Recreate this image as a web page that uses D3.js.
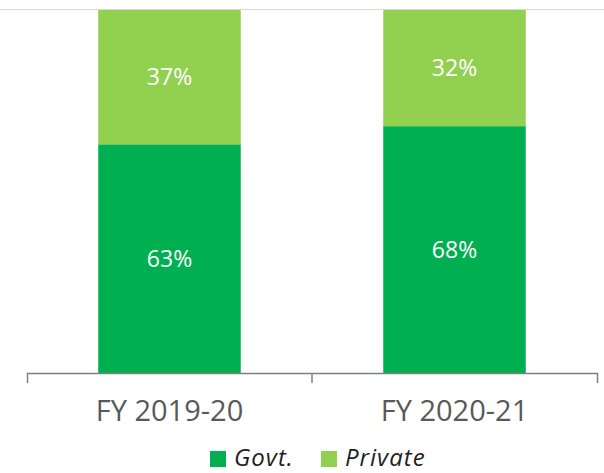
<!DOCTYPE html>
<html>
<head>
<meta charset="utf-8">
<script src="https://cdn.jsdelivr.net/npm/d3@7"></script>
<style>
  body { margin: 0; background: #fff; }
  svg { display: block; font-family: "Open Sans", sans-serif; }
</style>
</head>
<body>
<div id="chart"></div>
<script>
// Data (100% stacked)
const categories = ['FY 2019-20', 'FY 2020-21'];
const seriesNames = ['Govt.', 'Private'];
const govt = [63, 68];
const privateShare = [37, 32];
const colors = ['#00b050', '#92d050'];

const width = 604;
const height = 473;
const margin = { top: 10, right: 7, bottom: 100, left: 27 };

const rows = categories.map((c, i) => ({ cat: c, 'Govt.': govt[i], Private: privateShare[i] }));
const stacked = d3.stack().keys(seriesNames)(rows);

const svg = d3.select('#chart')
  .append('svg')
  .attr('width', width)
  .attr('height', height);

const x = d3.scaleBand()
  .domain(categories)
  .range([margin.left, width - margin.right])
  .paddingInner(0.5)
  .paddingOuter(0.25);

const y = d3.scaleLinear()
  .domain([0, 100])
  .range([height - margin.bottom, margin.top]);

// top gridline (100%)
svg.append('line')
  .attr('x1', 0)
  .attr('x2', width)
  .attr('y1', y(100) - 0.5)
  .attr('y2', y(100) - 0.5)
  .attr('stroke', '#d9d9d9')
  .attr('stroke-width', 1);

// stacked bars
const layer = svg.append('g')
  .selectAll('g')
  .data(stacked)
  .join('g')
  .attr('fill', (d, i) => colors[i]);

layer.selectAll('rect')
  .data((d) => d)
  .join('rect')
  .attr('x', (d) => x(d.data.cat))
  .attr('width', x.bandwidth())
  .attr('y', (d) => y(d[1]))
  .attr('height', (d) => y(d[0]) - y(d[1]));

// value labels
layer.selectAll('text')
  .data((d) => d.map((v) => ({ v, key: d.key })))
  .join('text')
  .attr('x', (d) => x(d.v.data.cat) + x.bandwidth() / 2)
  .attr('y', (d) => (y(d.v[0]) + y(d.v[1])) / 2)
  .attr('dy', '0.36em')
  .attr('text-anchor', 'middle')
  .attr('fill', '#fff')
  .style('font-size', '23px')
  .text((d) => d.v.data[d.key] + '%');

// x axis, ticks between categories (Excel style)
const xAxis = svg.append('g')
  .attr('transform', `translate(0,${y(0)})`)
  .call(d3.axisBottom(x).tickSizeInner(0).tickSizeOuter(10).tickPadding(27));

xAxis.select('.domain')
  .attr('stroke', '#7f7f7f')
  .attr('stroke-width', 1.5);

xAxis.selectAll('.tick text')
  .attr('fill', '#595959')
  .style('font-size', '29px')
  .style('font-family', '"Open Sans", sans-serif');

xAxis.selectAll('.boundary')
  .data(categories.slice(1))
  .join('line')
  .attr('class', 'boundary')
  .attr('x1', (d) => x(d) - (x.step() * x.paddingInner()) / 2)
  .attr('x2', (d) => x(d) - (x.step() * x.paddingInner()) / 2)
  .attr('y1', 0)
  .attr('y2', 10)
  .attr('stroke', '#7f7f7f')
  .attr('stroke-width', 1.5);

// legend
const legendX = [210, 321];
const legend = svg.append('g')
  .attr('transform', 'translate(0,451)');

const item = legend.selectAll('g')
  .data(seriesNames)
  .join('g')
  .attr('transform', (d, i) => `translate(${legendX[i]},0)`);

item.append('rect')
  .attr('width', 16)
  .attr('height', 16)
  .attr('fill', (d, i) => colors[i]);

item.append('text')
  .attr('x', 24)
  .attr('y', 15)
  .attr('fill', '#1f1f1f')
  .style('font-size', '24px')
  .style('font-style', 'italic')
  .style('letter-spacing', '1px')
  .text((d) => d);
</script>
</body>
</html>
